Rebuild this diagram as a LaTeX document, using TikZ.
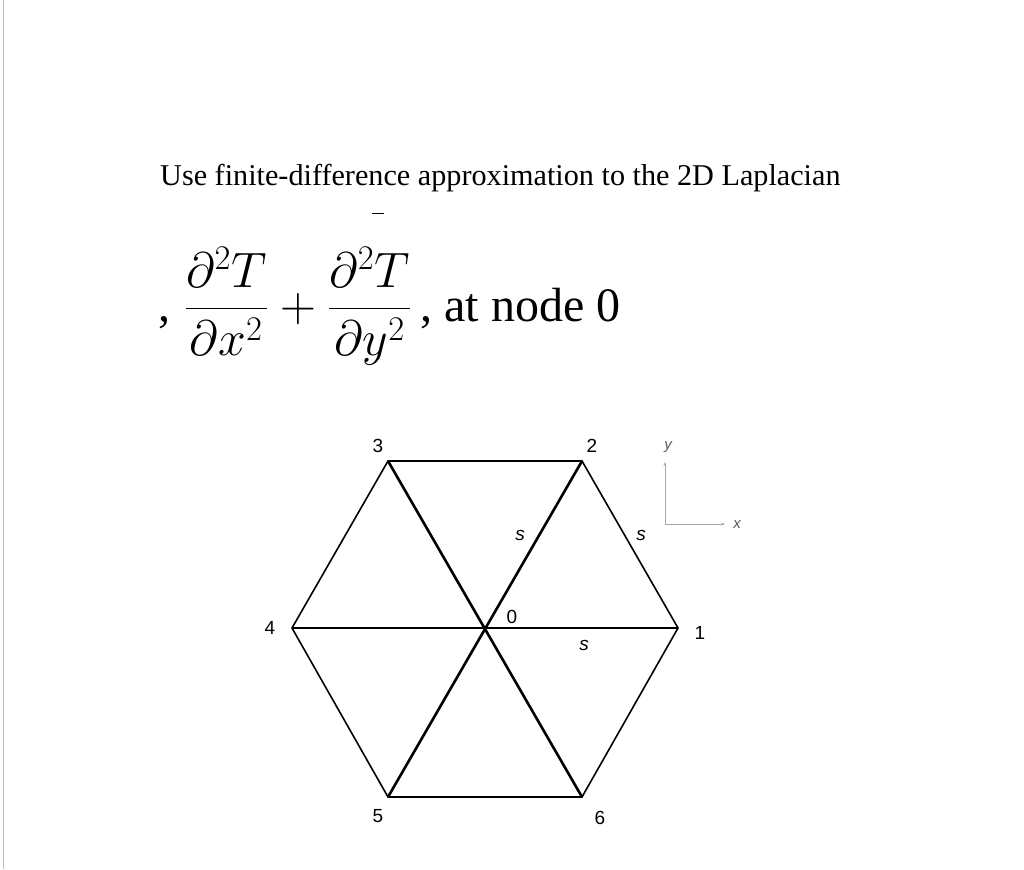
\documentclass[tikz,border=0pt]{standalone}
\usepackage{fontspec}
\setmainfont{Liberation Serif}
\newfontfamily\lblfont{Liberation Sans}
\usetikzlibrary{arrows.meta}
\begin{document}
\begin{tikzpicture}[x=1pt,y=-1pt,
  edge/.style={line width=1.6pt},
  spoke/.style={line width=2.6pt},
  lbl/.style={font=\lblfont\fontsize{19}{21}\selectfont, inner sep=0pt},
  slbl/.style={font=\lblfont\itshape\fontsize{19}{21}\selectfont, inner sep=0pt},
  ax/.style={draw=gray!70, line width=0.8pt, -{Stealth[length=4pt]}}]
\useasboundingbox (0,0) rectangle (1024,869);
\draw[gray!50, line width=1pt] (3,0) -- (3,869);
\node[anchor=west, inner sep=0pt, font=\fontsize{30.2}{34}\selectfont] (title) at (160,178) {Use finite-difference approximation to the 2D Laplacian};
\node[anchor=west, inner sep=0pt, scale=2, font=\fontsize{24}{28}\selectfont] (eq) at (158,306) {,\;$\displaystyle \frac{\partial^2 T}{\partial x^2}+\frac{\partial^2 T}{\partial y^2}$\,, at node 0};
\coordinate (bar1) at (372,213); \coordinate (bar2) at (384,213);
\draw[line width=1pt] (bar1) -- (bar2);
\coordinate (n0) at (484,628);
\coordinate (n1) at (678,628);
\coordinate (n2) at (582,461);
\coordinate (n3) at (388,461);
\coordinate (n4) at (292,628);
\coordinate (n5) at (388,797);
\coordinate (n6) at (582,797);
\draw[edge] (n1) -- (n2) -- (n3) -- (n4) -- (n5) -- (n6) -- cycle;
\draw[edge] (n4) -- (n1);
\draw[spoke] (n3) -- (n6);
\draw[spoke] (n2) -- (n5);
\node[lbl] (l0) at (512,617) {0};
\node[lbl] (l1) at (700,633) {1};
\node[lbl] (l2) at (592,446) {2};
\node[lbl] (l3) at (378,446) {3};
\node[lbl] (l4) at (270,628) {4};
\node[lbl] (l5) at (378,816) {5};
\node[lbl] (l6) at (600,818) {6};
\node[slbl] (s1) at (520,535) {s};
\node[slbl] (s2) at (641,535) {s};
\node[slbl] (s3) at (584,645) {s};
\coordinate (o) at (665,524);
\coordinate (yt) at (665,462);
\coordinate (xt) at (725,524);
\draw[ax] (o) -- (yt);
\draw[ax] (o) -- (xt);
\node[font=\lblfont\itshape\fontsize{15}{17}\selectfont, text=gray!70!black] (ylab) at (668,447) {y};
\node[font=\lblfont\itshape\fontsize{15}{17}\selectfont, text=gray!70!black] (xlab) at (737,525) {x};
\end{tikzpicture}
\end{document}
